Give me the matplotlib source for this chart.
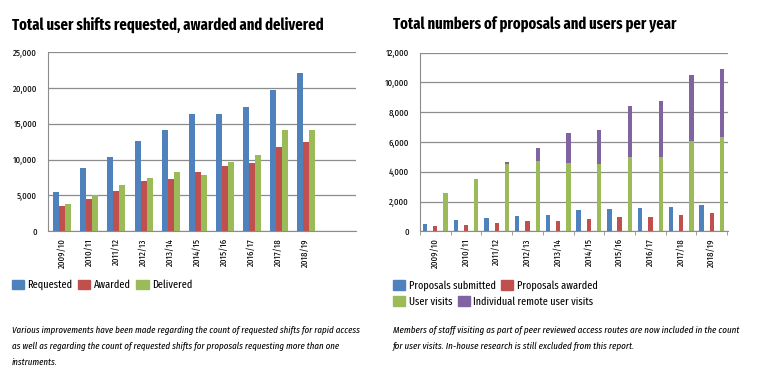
import matplotlib
matplotlib.use("Agg")
import matplotlib.pyplot as plt
import numpy as np
from matplotlib.patches import Patch

# condensed look of the original layout
plt.rcParams['font.family'] = ['Fira Sans Extra Condensed', 'DejaVu Sans']

years = ["2009/10", "2010/11", "2011/12", "2012/13", "2013/14",
         "2014/15", "2015/16", "2016/17", "2017/18", "2018/19"]

# left chart: user shifts
requested = [5500, 8780, 10400, 12650, 14100, 16430, 16340, 17320, 19700, 22130]
awarded = [3500, 4530, 5650, 7000, 7240, 8300, 9100, 9520, 11720, 12500]
delivered = [3830, 5090, 6400, 7380, 8300, 7840, 9620, 10640, 14150, 14150]

# right chart: proposals and users
proposals_submitted = [470, 730, 870, 1020, 1090, 1400, 1470, 1560, 1600, 1780]
proposals_awarded = [330, 440, 530, 670, 680, 800, 930, 960, 1090, 1200]
user_visits = [2600, 3530, 4510, 4730, 4580, 4530, 5000, 5020, 6060, 6330]
remote_visits = [0, 0, 130, 890, 2020, 2310, 3430, 3745, 4430, 4560]

c_blue = '#4f81bd'
c_red = '#c0504d'
c_green = '#9bbb59'
c_purple = '#8064a2'
grid_c = '#8c8c8c'

fig = plt.figure(figsize=(7.6, 3.84), dpi=100)


def style_axes(ax, ymax, ystep):
    ax.set_ylim(0, ymax)
    ticks = np.arange(0, ymax + 1, ystep)
    ax.set_yticks(ticks)
    ax.set_yticklabels([f"{int(t):,}" for t in ticks], fontsize=7)
    ax.yaxis.grid(True, color=grid_c, linewidth=0.9)
    ax.set_axisbelow(True)
    for s in ['top', 'right']:
        ax.spines[s].set_visible(False)
    ax.spines['left'].set_color(grid_c)
    ax.spines['bottom'].set_color(grid_c)
    ax.tick_params(axis='y', length=0, pad=8)
    ax.tick_params(axis='x', length=0, pad=5)
    ax.set_xticks(range(len(years)))
    ax.set_xticklabels(years, rotation=90, fontsize=7)


# ---- left chart
ax1 = fig.add_axes([0.0636, 0.398, 0.4045, 0.466])
x = np.arange(len(years))
w = 0.222
ax1.bar(x - w, requested, w, color=c_blue)
ax1.bar(x, awarded, w, color=c_red)
ax1.bar(x + w, delivered, w, color=c_green)
ax1.set_xlim(-0.52, 10.85)
style_axes(ax1, 25000, 5000)

# ---- right chart
ax2 = fig.add_axes([0.5526, 0.3977, 0.405, 0.465])
w2 = 0.14
off = 0.335
ax2.bar(x - off, proposals_submitted, w2, color=c_blue)
ax2.bar(x, proposals_awarded, w2, color=c_red)
ax2.bar(x + off, user_visits, w2, color=c_green)
ax2.bar(x + off, remote_visits, w2, bottom=user_visits, color=c_purple)
ax2.set_xlim(-0.5, 9.52)
style_axes(ax2, 12000, 2000)
# small category separators under the axis
ax2.set_xticks(np.arange(len(years) + 1) - 0.5, minor=True)
ax2.tick_params(axis='x', which='minor', length=3, color=grid_c)

# titles
fig.text(12 / 760, 1 - 25 / 384, "Total user shifts requested, awarded and delivered",
         fontsize=11.4, fontweight='bold', va='center', ha='left')
fig.text(393 / 760, 1 - 25 / 384, "Total numbers of proposals and users per year",
         fontsize=11.4, fontweight='bold', va='center', ha='left')

# legends
leg_kw = dict(frameon=False, fontsize=8, handlelength=1.1, handleheight=1.0,
              handletextpad=0.3, columnspacing=0.5, borderaxespad=0, borderpad=0)
fig.legend([Patch(color=c_blue), Patch(color=c_red), Patch(color=c_green)],
           ["Requested", "Awarded", "Delivered"], ncol=3,
           loc='center left', bbox_to_anchor=(12 / 760, 1 - 285 / 384), **leg_kw)
fig.legend([Patch(color=c_blue), Patch(color=c_red)],
           ["Proposals submitted", "Proposals awarded"], ncol=2,
           loc='center left', bbox_to_anchor=(393 / 760, 1 - 285.5 / 384), **leg_kw)
fig.legend([Patch(color=c_green), Patch(color=c_purple)],
           ["User visits", "Individual remote user visits"], ncol=2,
           loc='center left', bbox_to_anchor=(393 / 760, 1 - 301.5 / 384), **leg_kw)

# footnotes
left_note = ["Various improvements have been made regarding the count of requested shifts for rapid access",
             "as well as regarding the count of requested shifts for proposals requesting more than one",
             "instruments."]
right_note = ["Members of staff visiting as part of peer reviewed access routes are now included in the count",
              "for user visits. In-house research is still excluded from this report."]
for i, line in enumerate(left_note):
    fig.text(12 / 760, 1 - (330 + i * 16) / 384, line, fontsize=7.0, style='italic',
             va='center', ha='left')
for i, line in enumerate(right_note):
    fig.text(393 / 760, 1 - (330 + i * 16.5) / 384, line, fontsize=7.1, style='italic',
             va='center', ha='left')

fig.savefig("out.png", dpi=100, facecolor='white')
